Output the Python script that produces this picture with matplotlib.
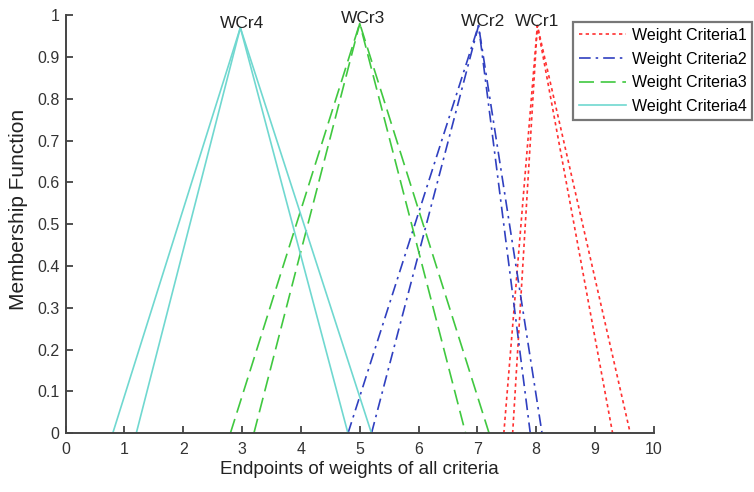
import matplotlib
matplotlib.use("Agg")
import matplotlib.pyplot as plt

plt.rcParams['font.family'] = ['Liberation Sans', 'DejaVu Sans']

series_names = ['Weight Criteria1', 'Weight Criteria2', 'Weight Criteria3', 'Weight Criteria4']
peak_labels = ['WCr1', 'WCr2', 'WCr3', 'WCr4']
peak_x = [8.02, 7.02, 5.0, 2.97]
peak_y = [0.975, 0.975, 0.98, 0.97]
label_x = [8.02, 7.1, 5.05, 3.0]
label_y = [0.985, 0.985, 0.993, 0.98]
left_outer = [7.45, 4.8, 2.8, 0.8]
left_inner = [7.6, 5.2, 3.2, 1.2]
right_inner = [9.3, 7.9, 6.8, 4.8]
right_outer = [9.6, 8.1, 7.2, 5.2]

colors = ['#ff3030', '#3040c0', '#40c840', '#70d8d0']
styles = [(0, (2, 2)), (0, (7, 3, 1.5, 3)), (0, (9, 4)), '-']

fig = plt.figure(figsize=(7.54, 4.92), dpi=100)
ax = fig.add_axes([0.0871, 0.1193, 0.780, 0.850])

handles = []
for i in range(4):
    h, = ax.plot([left_outer[i], peak_x[i], right_outer[i]], [0, peak_y[i], 0],
                 color=colors[i], linestyle=styles[i], linewidth=1.2, label=series_names[i])
    ax.plot([left_inner[i], peak_x[i], right_inner[i]], [0, peak_y[i], 0],
            color=colors[i], linestyle=styles[i], linewidth=1.2)
    handles.append(h)
    ax.text(label_x[i], label_y[i], peak_labels[i], ha='center', va='center',
            fontsize=12.5, color='#222222')

ax.set_xlim(0, 10)
ax.set_ylim(0, 1)
ax.set_xticks(range(0, 11))
ax.set_yticks([i / 10 for i in range(11)])
ax.set_yticklabels(['0', '0.1', '0.2', '0.3', '0.4', '0.5', '0.6', '0.7', '0.8', '0.9', '1'])
ax.tick_params(direction='in', length=5, labelsize=11.5, colors='#333333', width=1.2)
ax.tick_params(axis='x', pad=6.5)
ax.tick_params(axis='y', pad=4.5)
ax.spines['top'].set_visible(False)
ax.spines['right'].set_visible(False)
for s in ['left', 'bottom']:
    ax.spines[s].set_color('#444444')
    ax.spines[s].set_linewidth(1.4)
ax.set_xlabel('Endpoints of weights of all criteria', fontsize=13.5, color='#222222')
ax.set_ylabel('Membership Function', fontsize=15, color='#222222')
ax.yaxis.set_label_coords(-0.064, 0.536)
ax.xaxis.set_label_coords(0.5, -0.066)

leg = fig.legend(handles=handles, loc='upper right', bbox_to_anchor=(0.998, 0.955),
                 fontsize=11.5, handlelength=3.0, frameon=True, fancybox=False,
                 borderpad=0.35, labelspacing=0.55, handletextpad=0.35, borderaxespad=0)
leg.get_frame().set_edgecolor('#555555')
leg.get_frame().set_linewidth(1.6)

fig.savefig('out.png', dpi=100)
